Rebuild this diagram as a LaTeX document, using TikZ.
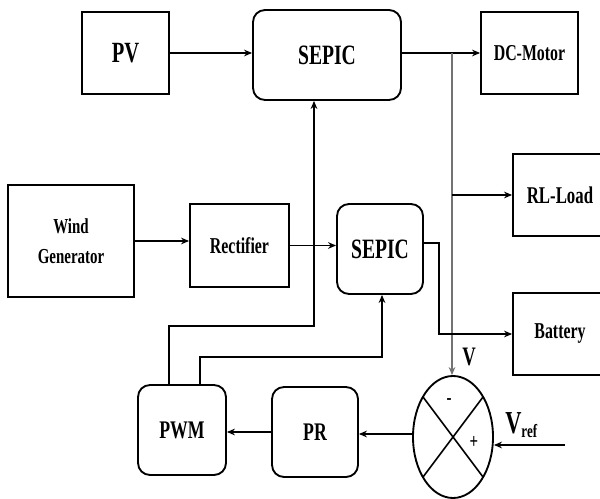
\documentclass[tikz,border=0pt]{standalone}
\usepackage{fontspec}
\setmainfont{Liberation Serif}
\newfontfamily\lab[FakeStretch=0.7]{Liberation Serif}
\usetikzlibrary{arrows.meta,shapes.geometric}
\tikzset{
  box/.style={draw=black, line width=1.4pt, inner sep=0pt, align=center},
  rbox/.style={box, rounded corners=9pt},
  sz/.style 2 args={minimum width=#1*0.75pt, minimum height=#2*0.75pt},
  fs/.style={font=\lab\bfseries\fontsize{#1}{22.5}\selectfont},
  conn/.style={line width=1.2pt, -{Stealth[length=6pt,width=5pt]}},
  plain/.style={line width=1.2pt},
  bus/.style={line width=1.6pt, draw=black!55},
  lbl/.style={inner sep=0pt}
}
\begin{document}
\begin{tikzpicture}[x=0.75pt,y=-0.75pt]
\useasboundingbox (0,0) rectangle (600,499);
% blocks
\node[box, sz={87}{82}, fs=22] (pv) at (125.5,53) {PV};
\node[rbox, sz={148}{90}, fs=21] (sepa) at (327,55) {SEPIC};
\node[box, sz={97}{82}, fs=17] (dcm) at (529.5,53) {DC-Motor};
\node[box, sz={94}{82}, fs=18] (rl) at (560,195) {RL-Load};
\node[box, sz={94}{82}, fs=17] (bat) at (560,334) {Battery};
\node[box, sz={126}{112}, fs=16] (wind) at (71,241) {Wind\\Generator};
\node[box, sz={99}{83}, fs=17] (rect) at (239.5,245.5) {Rectifier};
\node[rbox, sz={86}{90}, fs=21] (sepb) at (380,249) {SEPIC};
\node[rbox, sz={88}{90}, fs=19] (pwm) at (182,430) {PWM};
\node[rbox, sz={86}{90}, fs=19] (pr) at (315,432) {PR};
\node[draw=black, line width=1.4pt, ellipse, inner sep=0pt, minimum width=60pt, minimum height=91.5pt] (sum) at (453,437) {};
\draw[plain] ([shift={(-30,-40)}]sum.center) -- ([shift={(30,40)}]sum.center);
\draw[plain] ([shift={(30,-40)}]sum.center) -- ([shift={(-30,40)}]sum.center);
% labels
\node[lbl, fs=20, anchor=base west] (vlab) at (462,365) {V};
\node[lbl, fs=16] (minus) at (449,402) {-};
\node[lbl, fs=16] (plus) at (474,442) {+};
\node[lbl, fs=24, anchor=base west] (vref) at (505,433) {V\raisebox{-0.3ex}{\fontsize{14}{14}\selectfont ref}};
% connectors
\coordinate (j1) at (452,53);
\coordinate (k1) at (314,326);
\coordinate (k2) at (382,357);
\coordinate (vr) at (565,445);
\draw[conn] (pv.east) -- (pv.east -| sepa.west);
\draw[conn] (sepa.east |- dcm.west) -- (dcm.west);
\draw[bus, -{Stealth[length=6pt,width=5pt]}] (j1) -- (j1 |- sum.north);
\draw[conn] (j1 |- rl.west) -- (rl.west);
\draw[conn] (wind.east) -- (wind.east -| rect.west);
\draw[conn] (rect.east) -- (rect.east -| sepb.west);
\draw[conn] ([yshift=4.5pt]sepb.east) -- ++(15,0) |- (bat.west);
\draw[conn] ([xshift=-9.75pt]pwm.north) |- (k1) -- (k1 |- sepa.south);
\draw[conn] ([xshift=13.5pt]pwm.north) |- (k2) -- (k2 |- sepb.south);
\draw[conn] ([yshift=2.25pt]sum.west) -- ([yshift=2.25pt]sum.west -| pr.east);
\draw[conn] (pr.west) -- (pr.west -| pwm.east);
\draw[conn] (vr) -- (vr -| sum.east);
\end{tikzpicture}
\end{document}
